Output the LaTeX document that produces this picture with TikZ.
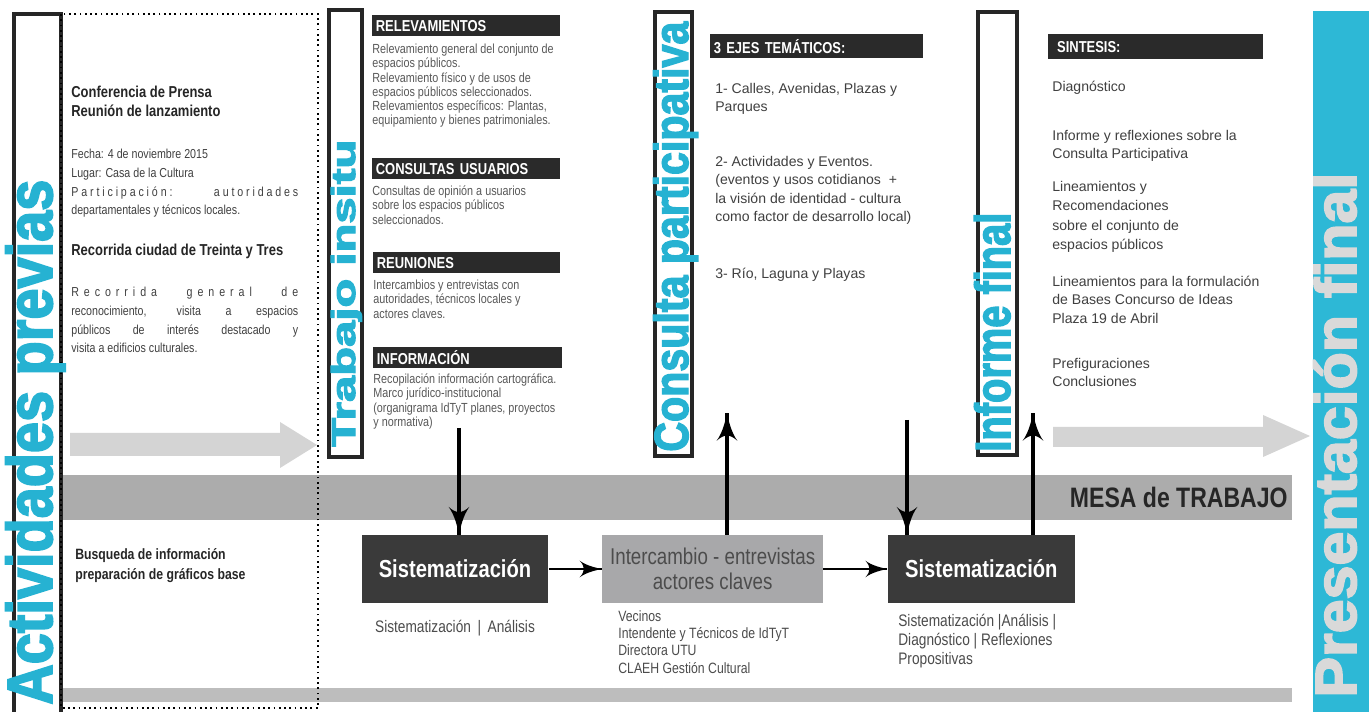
\documentclass[tikz,border=0pt]{standalone}
\usepackage{fontspec}
\usepackage{graphicx}
\setmainfont{Liberation Sans}
\newfontfamily\nar[FakeStretch=0.82]{Liberation Sans}
\newfontfamily\heavy[FakeBold=3]{Liberation Sans Bold}
\tolerance=10000
\hbadness=10000
\usetikzlibrary{arrows}
\usetikzlibrary{decorations.markings}
\usetikzlibrary{positioning}
\definecolor{cyanlab}{RGB}{38,178,210}
\definecolor{presbg}{RGB}{45,184,214}
\definecolor{barblack}{RGB}{42,42,42}
\definecolor{boxdark}{RGB}{58,58,58}
\definecolor{boxgray}{RGB}{168,168,170}
\definecolor{bandgray}{RGB}{172,172,172}
\definecolor{arrgray}{RGB}{212,212,212}
\tikzset{->/.style = {decoration={markings,
                                  mark=at position 1 with {\arrow[scale=1.8]{latex'}}},
                      postaction={decorate}}}
\tikzset{frm/.style = {draw=black!85, line width = 2.2pt}}
\tikzset{hdr/.style = {fill=barblack, text=white, anchor=north west, inner xsep=2pt,
                       inner ysep=0, minimum height=0.42cm,
                       font=\nar\bfseries\fontsize{9}{10}\selectfont}}
\tikzset{fine/.style = {anchor=north west, inner sep=0, align=left, text=black!65,
                        font=\nar\fontsize{7.5}{8.1}\selectfont}}
\tikzset{txt/.style = {anchor=north west, inner sep=0, align=left, text=black!75,
                       font=\fontsize{8}{10.4}\selectfont}}
\tikzset{lft/.style = {anchor=north west, inner sep=0, text width=4.54cm, align=justify,
                       text=black!75, font=\nar\fontsize{7.4}{10.6}\selectfont}}
\tikzset{lftb/.style = {anchor=north west, inner sep=0, align=left, text=black!85,
                        font=\nar\bfseries\fontsize{9}{10.6}\selectfont}}
\tikzset{sbox/.style = {fill=boxdark, text=white, minimum width=3.74cm,
                        minimum height=1.36cm, inner sep=0,
                        font=\nar\bfseries\fontsize{14}{16}\selectfont}}
\tikzset{gbox/.style = {fill=boxgray, text=black!70, align=center, minimum width=4.42cm,
                        minimum height=1.36cm, inner sep=0,
                        font=\nar\fontsize{13}{14.5}\selectfont}}
\tikzset{low/.style = {anchor=north west, inner sep=0, align=left, text=black!70,
                       font=\nar\fontsize{9.5}{10.8}\selectfont}}
\tikzset{vlab/.style = {rotate=90, anchor=base west, inner sep=0, text=cyanlab}}
\newcommand\biglab[3]{\resizebox{#1}{#2}{\heavy\vphantom{A}\smash{#3}}}

\begin{document}
\begin{tikzpicture}[x=0.02cm, y=-0.02cm]
    \path [use as bounding box, fill=white] (0, 0) rectangle (1369, 712);

    \fill [bandgray] (62, 475) rectangle (1292, 520);
    \fill [bandgray!80] (62, 688) rectangle (1292, 702);
    \node [anchor=east, inner sep=0, text=black!85,
           font=\nar\bfseries\fontsize{16}{18}\selectfont] (mesa) at (1288, 497) {MESA de TRABAJO};

    \fill [arrgray] (70, 433) -- (280, 433) -- (280, 422) -- (317, 445) -- (280, 468)
                    -- (280, 456) -- (70, 456) -- cycle;
    \fill [arrgray] (1053, 427) -- (1263, 427) -- (1263, 415) -- (1310, 436) -- (1263, 457)
                    -- (1263, 447) -- (1053, 447) -- cycle;

    \draw [frm, line width = 2.6pt] (14, 14) rectangle (61, 720);
    \draw [dotted, line width = 1pt] (61, 14) rectangle (318, 708);
    \draw [frm] (329, 10) rectangle (362, 457);
    \draw [frm] (655, 12) rectangle (692, 456);
    \draw [frm] (978, 12) rectangle (1017, 455);
    \fill [presbg] (1313, 11) rectangle (1369, 712);

    \node [vlab] (act) at (52, 705) {\biglab{10.5cm}{0.88cm}{Actividades previas}};
    \node [vlab] (tra) at (355, 447) {\biglab{6.14cm}{0.46cm}{Trabajo insitu}};
    \node [vlab] (con) at (688, 452) {\biglab{8.6cm}{0.66cm}{Consulta participativa}};
    \node [vlab] (inf) at (1010, 452) {\biglab{4.78cm}{0.68cm}{Informe final}};
    \node [vlab, text=white!85!black] (pre) at (1356, 698) {\biglab{10.5cm}{0.8cm}{Presentación final}};

    \node [lftb] (press) at (71, 86) {Conferencia de Prensa\\Reunión de lanzamiento};
    \node [lft] (fecha) at (71, 149) {Fecha: 4 de noviembre 2015\newline
      Lugar: Casa de la Cultura\newline
      {\addfontfeature{LetterSpace=22}Participación: autoridades}\linebreak
      departamentales y técnicos locales.};
    \node [lftb] (reco) at (71, 244) {Recorrida ciudad de Treinta y Tres};
    \node [lft] (recot) at (71, 287) {{\addfontfeature{LetterSpace=38}Recorrida general de}\linebreak
      reconocimiento, visita a espacios\linebreak
      públicos de interés destacado y\linebreak
      visita a edificios culturales.};
    \node [lftb, font=\nar\bfseries\fontsize{8.5}{11.3}\selectfont] (busq) at (75, 548)
      {Busqueda de información\\preparación de gráficos base};

    \node [hdr, text width=3.62cm] (rel) at (372, 15) {RELEVAMIENTOS};
    \node [fine, below right=0.14cm and 0cm of rel.south west] (relt)
      {Relevamiento general del conjunto de\\espacios públicos.\\Relevamiento físico y de usos de\\
       espacios públicos seleccionados.\\Relevamientos específicos: Plantas,\\
       equipamiento y bienes patrimoniales.};
    \node [hdr, text width=3.62cm] (cons) at (372, 158) {CONSULTAS USUARIOS};
    \node [fine, below right=0.12cm and 0cm of cons.south west] (const)
      {Consultas de opinión a usuarios\\sobre los espacios públicos\\seleccionados.};
    \node [hdr, text width=3.6cm] (reu) at (373, 252) {REUNIONES};
    \node [fine, below right=0.12cm and 0cm of reu.south west] (reut)
      {Intercambios y entrevistas con\\autoridades, técnicos locales y\\actores claves.};
    \node [hdr, text width=3.64cm] (infn) at (373, 347) {INFORMACIÓN};
    \node [fine, below right=0.1cm and 0cm of infn.south west] (inft)
      {Recopilación información cartográfica.\\Marco jurídico-institucional\\
       (organigrama IdTyT planes, proyectos\\y normativa)};

    \node [hdr, text width=4.12cm, minimum height=0.47cm] (ejes) at (710, 34) {3 EJES TEMÁTICOS:};
    \node [txt] (eje1) at (715, 83) {1- Calles, Avenidas, Plazas y\\Parques};
    \node [txt] (eje2) at (715, 156) {2- Actividades y Eventos.\\(eventos y usos cotidianos \ +\\
      la visión de identidad - cultura\\como factor de desarrollo local)};
    \node [txt] (eje3) at (715, 268) {3- Río, Laguna y Playas};

    \node [hdr, text width=4.16cm, minimum height=0.49cm] (sint) at (1048, 34) {\ SINTESIS:};
    \node [txt] (diag) at (1052, 81) {Diagnóstico};
    \node [txt] (refl) at (1052, 130) {Informe y reflexiones sobre la\\Consulta Participativa};
    \node [txt, font=\fontsize{8}{11}\selectfont] (line) at (1052, 181)
      {Lineamientos y\\Recomendaciones\\sobre el conjunto de\\espacios públicos};
    \node [txt] (bases) at (1052, 276) {Lineamientos para la formulación\\de Bases Concurso de Ideas\\
      Plaza 19 de Abril};
    \node [txt] (pref) at (1052, 358) {Prefiguraciones\\Conclusiones};

    \node [sbox] (s1) at (455, 569) {Sistematización};
    \node [gbox, right=1.06cm of s1] (ic) {Intercambio - entrevistas\\actores claves};
    \node [sbox, right=1.28cm of ic] (s2) {Sistematización};
    \node [low, below=0.34cm of s1] (s1t) {Sistematización \,|\, Análisis};
    \node [low, font=\nar\fontsize{8.5}{9.9}\selectfont] (vec) at (618, 610)
      {Vecinos\\Intendente y Técnicos de IdTyT\\Directora UTU\\CLAEH Gestión Cultural};
    \node [low] (s2t) at (898, 614) {Sistematización |Análisis |\\Diagnóstico | Reflexiones\\Propositivas};

    \coordinate (d1) at (459, 428);
    \coordinate (u1) at (727, 413);
    \coordinate (d2) at (907, 420);
    \coordinate (u2) at (1033, 413);
    \draw [->, line width = 2pt] (d1) -- (d1 |- s1.north);
    \draw [->, line width = 2pt] (u1 |- ic.north) -- (u1);
    \draw [->, line width = 2pt] (d2) -- (d2 |- s2.north);
    \draw [->, line width = 2pt] (u2 |- s2.north) -- (u2);
    \draw [->, line width = 1.4pt] (s1) -- (ic);
    \draw [->, line width = 1.4pt] (ic) -- (s2);
\end{tikzpicture}
\end{document}
